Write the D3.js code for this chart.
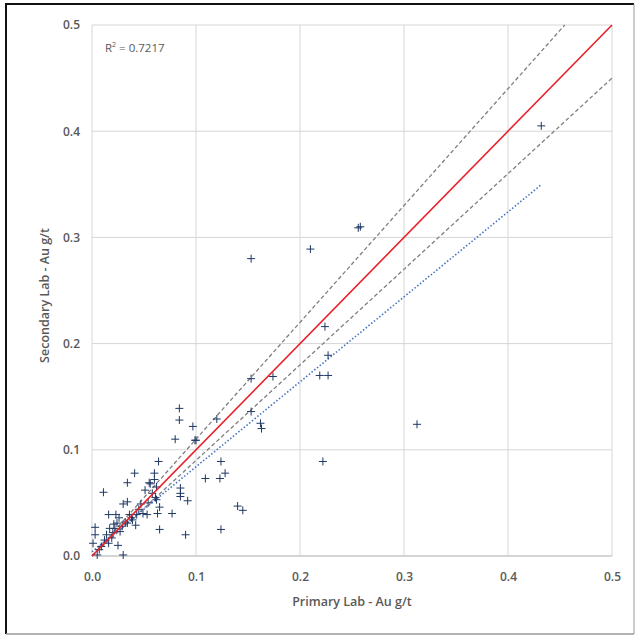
<!DOCTYPE html>
<html>
<head>
<meta charset="utf-8">
<script src="https://cdn.jsdelivr.net/npm/d3@7"></script>
<style>
  html, body { margin: 0; padding: 0; background: #fff; }
  svg { display: block; }
</style>
</head>
<body>
<svg id="chart" width="637" height="637"></svg>
<script>
// Duplicate assays: primary lab vs secondary lab gold grade (g/t)
const primaryAu = [
  0.432, 0.256, 0.258, 0.210, 0.153, 0.3125, 0.222, 0.224, 0.227, 0.219, 0.227,
  0.174, 0.153, 0.162, 0.163, 0.153, 0.120, 0.097, 0.100, 0.084, 0.084, 0.080,
  0.099, 0.064, 0.124, 0.128, 0.109, 0.123, 0.041, 0.060, 0.060, 0.034, 0.055,
  0.062, 0.085, 0.085, 0.085, 0.092, 0.011, 0.140, 0.145, 0.065, 0.063, 0.077,
  0.054, 0.053, 0.034, 0.030, 0.016, 0.023, 0.036, 0.043, 0.039, 0.042, 0.034,
  0.029, 0.022, 0.017, 0.027, 0.020, 0.014, 0.019, 0.016, 0.009, 0.003, 0.003,
  0.001, 0.005, 0.030, 0.025, 0.065, 0.090, 0.124, 0.058, 0.061, 0.051, 0.062,
  0.032, 0.024, 0.049, 0.045, 0.038, 0.012, 0.007, 0.047, 0.056, 0.026, 0.021
];
const secondaryAu = [
  0.405, 0.309, 0.310, 0.289, 0.280, 0.124, 0.089, 0.216, 0.189, 0.170, 0.170,
  0.169, 0.167, 0.125, 0.120, 0.136, 0.129, 0.122, 0.109, 0.139, 0.128, 0.110,
  0.109, 0.089, 0.089, 0.078, 0.073, 0.073, 0.078, 0.078, 0.072, 0.069, 0.069,
  0.065, 0.064, 0.059, 0.056, 0.052, 0.060, 0.047, 0.043, 0.046, 0.040, 0.040,
  0.050, 0.039, 0.051, 0.049, 0.039, 0.039, 0.039, 0.039, 0.034, 0.029, 0.031,
  0.028, 0.026, 0.026, 0.023, 0.022, 0.020, 0.017, 0.012, 0.009, 0.027, 0.020,
  0.012, 0.001, 0.001, 0.010, 0.025, 0.020, 0.025, 0.059, 0.055, 0.062, 0.053,
  0.032, 0.031, 0.040, 0.044, 0.036, 0.015, 0.006, 0.049, 0.068, 0.036, 0.030
];
const tickValues = [0.0, 0.1, 0.2, 0.3, 0.4, 0.5];
const rSquaredLabel = "0.7217";
// Reference lines: 1:1, ±10 %, and the least-squares trend through the data
const parityLine = [[0, 0], [0.5, 0.5]];
const upperBandSlope = 1.1;
const lowerBandSlope = 0.9;
const trendSlope = 0.8;
const trendIntercept = 0.004;

const svg = d3.select("#chart");
const plotLeft = 92, plotRight = 612, plotTop = 25, plotBottom = 556;

// outer frame
svg.append("line").attr("x1", 6).attr("y1", 4).attr("x2", 6).attr("y2", 634)
  .attr("stroke", "#111").attr("stroke-width", 2);
svg.append("line").attr("x1", 5).attr("y1", 4).attr("x2", 634).attr("y2", 4)
  .attr("stroke", "#111").attr("stroke-width", 2);
svg.append("line").attr("x1", 6).attr("y1", 634).attr("x2", 634).attr("y2", 634)
  .attr("stroke", "#9a9a9a").attr("stroke-width", 1.5);
svg.append("line").attr("x1", 634).attr("y1", 4).attr("x2", 634).attr("y2", 634)
  .attr("stroke", "#9a9a9a").attr("stroke-width", 1);

const x = d3.scaleLinear().domain([0, 0.5]).range([plotLeft, plotRight]);
const y = d3.scaleLinear().domain([0, 0.5]).range([plotBottom, plotTop]);

// gridlines
const grid = svg.append("g");
grid.selectAll(".vg").data(tickValues).join("line")
  .attr("x1", d => x(d)).attr("x2", d => x(d))
  .attr("y1", plotTop).attr("y2", plotBottom)
  .attr("stroke", "#d6d6d6").attr("stroke-width", 1);
grid.selectAll(".hg").data(tickValues).join("line")
  .attr("x1", plotLeft).attr("x2", plotRight)
  .attr("y1", d => y(d)).attr("y2", d => y(d))
  .attr("stroke", "#d6d6d6").attr("stroke-width", 1);

// axes (labels only, the frame is drawn by the grid)
const fmt = d3.format(".1f");
const xAxis = svg.append("g").attr("transform", `translate(0,${plotBottom})`)
  .call(d3.axisBottom(x).tickValues(tickValues).tickFormat(fmt).tickSize(0).tickPadding(16));
const yAxis = svg.append("g").attr("transform", `translate(${plotLeft},0)`)
  .call(d3.axisLeft(y).tickValues(tickValues).tickFormat(fmt).tickSize(0).tickPadding(12));
[xAxis, yAxis].forEach(a => {
  a.select(".domain").remove();
  a.selectAll("text")
    .attr("fill", "#595959")
    .style("font-family", "'Open Sans', 'Noto Sans', sans-serif")
    .style("font-size", "12px")
    .style("font-weight", "600");
});
svg.append("line").attr("x1", plotLeft).attr("x2", plotRight).attr("y1", plotBottom).attr("y2", plotBottom)
  .attr("stroke", "#bfbfbf").attr("stroke-width", 1);

// axis titles
svg.append("text")
  .attr("x", (plotLeft + plotRight) / 2).attr("y", 606)
  .attr("text-anchor", "middle")
  .attr("fill", "#595959")
  .style("font-family", "'Open Sans', 'Noto Sans', sans-serif")
  .style("font-size", "12.5px").style("font-weight", "600")
  .text("Primary Lab - Au g/t");
svg.append("text")
  .attr("transform", `translate(49,${(plotTop + plotBottom) / 2 + 5}) rotate(-90)`)
  .attr("text-anchor", "middle")
  .attr("fill", "#595959")
  .style("font-family", "'Open Sans', 'Noto Sans', sans-serif")
  .style("font-size", "12.5px").style("font-weight", "600")
  .text("Secondary Lab - Au g/t");

// R² annotation
const r2 = svg.append("text")
  .attr("x", 105).attr("y", 52)
  .attr("fill", "#595959")
  .style("font-family", "'Open Sans', 'Noto Sans', sans-serif")
  .style("font-size", "11.5px");
r2.append("tspan").text("R");
r2.append("tspan").attr("dy", -5).style("font-size", "7px").text("2");
r2.append("tspan").attr("dy", 5).text(" = " + rSquaredLabel);

const line = d3.line().x(d => x(d[0])).y(d => y(d[1]));
const plot = svg.append("g");

// ±10 % bands, stopped where they leave the plot
const upperEnd = 0.5 / upperBandSlope;
plot.append("path").datum([[0, 0], [upperEnd, upperEnd * upperBandSlope]])
  .attr("d", line).attr("fill", "none")
  .attr("stroke", "#7f7f7f").attr("stroke-width", 1.3).attr("stroke-dasharray", "4,2.5");
plot.append("path").datum([[0, 0], [0.5, 0.5 * lowerBandSlope]])
  .attr("d", line).attr("fill", "none")
  .attr("stroke", "#7f7f7f").attr("stroke-width", 1.3).attr("stroke-dasharray", "4,2.5");

// trend line over the data range
const xMin = 0, xMax = d3.max(primaryAu);
plot.append("path")
  .datum([[xMin, trendIntercept + trendSlope * xMin], [xMax, trendIntercept + trendSlope * xMax]])
  .attr("d", line).attr("fill", "none")
  .attr("stroke", "#4472c4").attr("stroke-width", 1.6).attr("stroke-dasharray", "1.5,2");

// data markers
const pts = primaryAu.map((v, i) => [v, secondaryAu[i]]);
plot.selectAll(".pt").data(pts).join("path")
  .attr("d", d => {
    const cx = x(d[0]), cy = y(d[1]);
    return `M${cx - 4},${cy}H${cx + 4}M${cx},${cy - 4}V${cy + 4}`;
  })
  .attr("stroke", "#1f3864").attr("stroke-width", 1).attr("fill", "none");

// 1:1 parity line on top
plot.append("path").datum(parityLine)
  .attr("d", line).attr("fill", "none")
  .attr("stroke", "#e8202a").attr("stroke-width", 1.6);
</script>
</body>
</html>
